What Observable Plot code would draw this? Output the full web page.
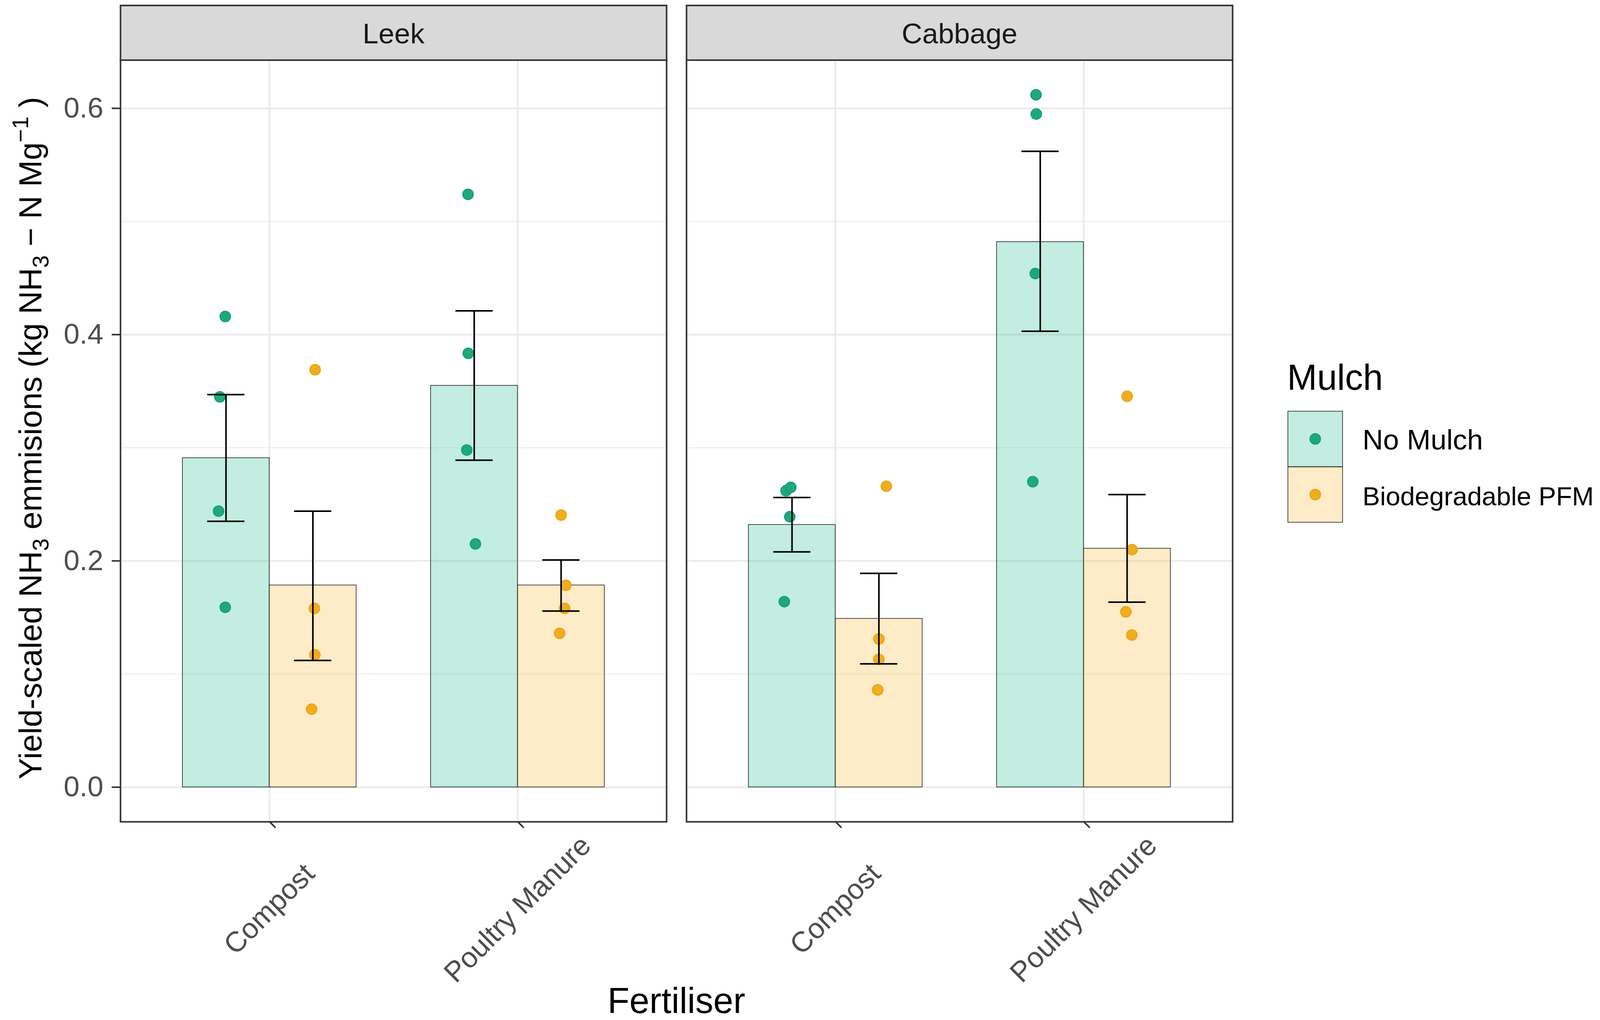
<!DOCTYPE html>
<html>
<head>
<meta charset="utf-8">
<script src="https://cdn.jsdelivr.net/npm/d3@7"></script>
<script src="https://cdn.jsdelivr.net/npm/@observablehq/plot@0.6"></script>
<style>
  body { margin: 0; background: #fff; }
  #chart { width: 4140px; height: 2612px; }
</style>
</head>
<body>
<div id="chart"></div>
<script>
const crops = ["Leek", "Cabbage"];
const fertilisers = ["Compost", "Poultry Manure"];
const mulches = ["No Mulch", "Biodegradable PFM"];
const barColors = ["#0BB783", "#FBAF1F"];   // drawn at 25% opacity
const dotColors = ["#1EA87F", "#F0AD20"];
const dotRims = ["#139C76", "#E8A40E"];

// one entry per bar: crop / fertiliser / mulch
const groupCrop = ["Leek", "Leek", "Leek", "Leek", "Cabbage", "Cabbage", "Cabbage", "Cabbage"];
const groupFert = ["Compost", "Compost", "Poultry Manure", "Poultry Manure", "Compost", "Compost", "Poultry Manure", "Poultry Manure"];
const groupMulch = ["No Mulch", "Biodegradable PFM", "No Mulch", "Biodegradable PFM", "No Mulch", "Biodegradable PFM", "No Mulch", "Biodegradable PFM"];
const groupMean = [0.291, 0.1785, 0.355, 0.1785, 0.232, 0.149, 0.482, 0.211];
const groupLow = [0.235, 0.112, 0.289, 0.1557, 0.208, 0.109, 0.403, 0.1635];
const groupHigh = [0.347, 0.244, 0.421, 0.2008, 0.256, 0.189, 0.562, 0.2586];

// replicate plots (4 per bar) and the horizontal jitter
const replicateValues = [
  [0.416, 0.345, 0.244, 0.159],
  [0.369, 0.158, 0.117, 0.069],
  [0.524, 0.3835, 0.298, 0.215],
  [0.2405, 0.1785, 0.158, 0.136],
  [0.262, 0.265, 0.239, 0.164],
  [0.266, 0.131, 0.113, 0.086],
  [0.612, 0.595, 0.454, 0.270],
  [0.3455, 0.210, 0.155, 0.1345]
];
const replicateJitter = [
  [-0.003, -0.025, -0.030, -0.003],
  [0.009, 0.006, 0.008, -0.005],
  [-0.025, -0.024, -0.030, 0.005],
  [0.000, 0.019, 0.014, -0.006],
  [-0.024, -0.005, -0.009, -0.031],
  [0.030, 0.000, 0.000, -0.005],
  [-0.017, -0.016, -0.020, -0.030],
  [0.000, 0.020, -0.005, 0.019]
];

const yTicks = [0, 0.2, 0.4, 0.6];
const yMinor = [0.1, 0.3, 0.5];

// dodge: position of each mulch inside a fertiliser slot
const dodge = {"No Mulch": -0.175, "Biodegradable PFM": 0.175};
const halfBar = 0.175;
const capHalf = 0.075;
const slotX = g => fertilisers.indexOf(groupFert[g]) + 1 + dodge[groupMulch[g]];
const mi = m => mulches.indexOf(m);

const bars = groupMean.map((m, g) => ({
  crop: groupCrop[g], mulch: groupMulch[g], xc: slotX(g),
  mean: m, lo: groupLow[g], hi: groupHigh[g]
}));
const replicates = replicateValues.flatMap((vals, g) => vals.map((v, k) => ({
  crop: groupCrop[g], mulch: groupMulch[g], x: slotX(g) + replicateJitter[g][k], value: v
})));

const font = "'Liberation Sans', Arial, sans-serif";

const chart = Plot.plot({
  width: 4140,
  height: 2612,
  marginLeft: 308,
  marginRight: 4140 - 3155,
  marginTop: 153.5,
  marginBottom: 2612 - 2104,
  style: {fontFamily: font, background: "#fff", overflow: "hidden"},
  fx: {domain: crops, paddingInner: 0.0352, paddingOuter: 0, round: false},
  x: {domain: [0.4, 2.6]},
  y: {domain: [-0.0306, 0.6426]},
  color: {type: "identity"},
  marks: [
    Plot.gridY(yMinor, {stroke: "#EBEBEB", strokeOpacity: 1, strokeWidth: 2.3}),
    Plot.gridY(yTicks, {stroke: "#EBEBEB", strokeOpacity: 1, strokeWidth: 4.6}),
    Plot.gridX([1, 2], {stroke: "#EBEBEB", strokeOpacity: 1, strokeWidth: 4.6}),
    Plot.rectY(bars, {
      fx: "crop", x1: d => d.xc - halfBar, x2: d => d.xc + halfBar, y: "mean",
      fill: d => barColors[mi(d.mulch)], fillOpacity: 0.25, stroke: "#222222", strokeWidth: 1.6
    }),
    Plot.dot(replicates, {
      fx: "crop", x: "x", y: "value", r: 13.5,
      fill: d => dotColors[mi(d.mulch)], stroke: d => dotRims[mi(d.mulch)], strokeWidth: 2.5
    }),
    Plot.ruleX(bars, {fx: "crop", x: "xc", y1: "lo", y2: "hi", stroke: "black", strokeWidth: 4}),
    Plot.ruleY(bars, {fx: "crop", y: "lo", x1: d => d.xc - capHalf, x2: d => d.xc + capHalf, stroke: "black", strokeWidth: 4}),
    Plot.ruleY(bars, {fx: "crop", y: "hi", x1: d => d.xc - capHalf, x2: d => d.xc + capHalf, stroke: "black", strokeWidth: 4}),
    Plot.frame({stroke: "#333333", strokeWidth: 4}),
    // facet strip above each panel
    Plot.frame({fill: "#D9D9D9", stroke: "#333333", strokeWidth: 4, insetTop: -140, insetBottom: 1950.5}),
    Plot.axisFx({anchor: "top", label: null, tickSize: 0, tickPadding: 66, lineAnchor: "middle", fontSize: 73, fill: "#1A1A1A"}),
    Plot.axisY(yTicks, {
      label: null, tickFormat: d3.format(".1f"), tickSize: 22, tickPadding: 22,
      fontSize: 73, stroke: "#333333", strokeWidth: 4, fill: "#4D4D4D"
    }),
    Plot.axisX([1, 2], {
      label: null, tickFormat: d => fertilisers[d - 1], tickSize: 22, tickPadding: 202,
      rotate: -45, textAnchor: "middle", lineAnchor: "middle",
      fontSize: 73, stroke: "#333333", strokeWidth: 4, fill: "#4D4D4D"
    })
  ]
});

document.getElementById("chart").append(chart);

const svg = d3.select(chart);

// y axis title with sub/superscripts
const yTitle = svg.append("text")
  .attr("transform", "translate(106,1122) rotate(-90)")
  .attr("text-anchor", "middle")
  .attr("font-family", font)
  .attr("font-size", 82)
  .attr("fill", "black");
const parts = [
  ["Yield-scaled NH", 0], ["3", 1], [" emmisions (kg NH", 0], ["3", 1],
  [" \u2212 N Mg", 0], ["\u22121", -1], [" )", 0]
];
let shift = 0;
parts.forEach(([t, kind]) => {
  const target = kind === 1 ? 18 : kind === -1 ? -34 : 0;
  yTitle.append("tspan")
    .attr("dy", target - shift)
    .attr("font-size", kind === 0 ? 82 : 58)
    .text(t);
  shift = target;
});

// x axis title
svg.append("text")
  .attr("x", (308 + 3155) / 2)
  .attr("y", 2594)
  .attr("text-anchor", "middle")
  .attr("font-family", font)
  .attr("font-size", 92)
  .attr("fill", "black")
  .text("Fertiliser");

// legend
const legend = svg.append("g").attr("font-family", font).attr("text-anchor", "start");
legend.append("text")
  .attr("x", 3295).attr("y", 998)
  .attr("font-size", 92).attr("fill", "black")
  .text("Mulch");
const labelSizes = [73, 67];
mulches.forEach((m, i) => {
  const top = 1053 + i * 142.5;
  const g = legend.append("g");
  g.append("rect")
    .attr("x", 3297).attr("y", top).attr("width", 140).attr("height", 142)
    .attr("fill", barColors[i]).attr("fill-opacity", 0.25)
    .attr("stroke", "#222222").attr("stroke-width", 1.6);
  g.append("circle")
    .attr("cx", 3367).attr("cy", top + 71).attr("r", 13.5)
    .attr("fill", dotColors[i])
    .attr("stroke", dotRims[i]).attr("stroke-width", 2.5);
  g.append("text")
    .attr("x", 3488).attr("y", top + 98)
    .attr("font-size", labelSizes[i]).attr("fill", "black")
    .text(m);
});
</script>
</body>
</html>
